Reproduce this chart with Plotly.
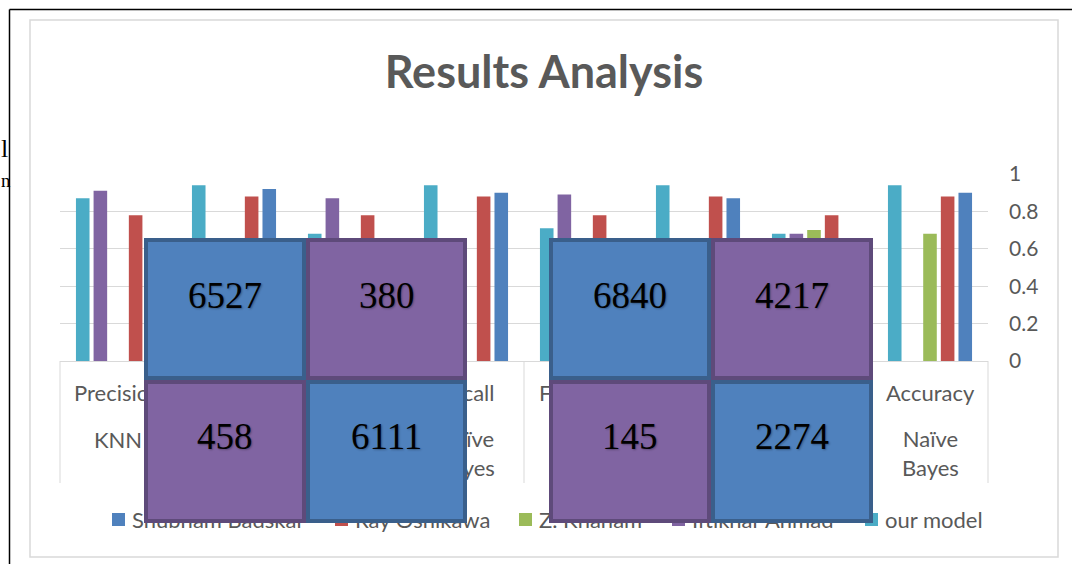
import plotly.graph_objects as go

# ---------------- data ----------------
metrics = ["Precision", "Precision", "Recall", "Recall",
           "F1-Score", "F1-Score", "Accuracy", "Accuracy"]
classifiers = ["KNN", "Naïve Bayes", "KNN", "Naïve Bayes",
               "KNN", "Naïve Bayes", "KNN", "Naïve Bayes"]
categories = [f"{m} {c}" for m, c in zip(metrics, classifiers)]
# categories whose axis labels are not entirely hidden by the overlaid boxes
visible_labels = [0, 3, 4, 7]

series_names = ["Shubham Badskar", "Ray Oshikawa", "Z. Khanam", "Iftikhar Ahmad", "our model"]
series_colors = ["#4F81BD", "#C0504D", "#9BBB59", "#8064A2", "#4BACC6"]

shubham = [None, 0.92, None, 0.90, None, 0.87, None, 0.90]
ray = [0.78, 0.88, 0.78, 0.88, 0.78, 0.88, 0.78, 0.88]
khanam = [None, None, None, None, None, None, 0.70, 0.68]
iftikhar = [0.91, None, 0.87, None, 0.89, None, 0.68, None]
our_model = [0.87, 0.94, 0.68, 0.94, 0.71, 0.94, 0.68, 0.94]
series_values = [shubham, ray, khanam, iftikhar, our_model]

cm_knn = [[6527, 380], [458, 6111]]
cm_nb = [[6840, 4217], [145, 2274]]

y_ticks = [0, 0.2, 0.4, 0.6, 0.8, 1]

# ---------------- geometry helpers ----------------
W, H = 1072, 564
PL, PR, PT, PB = 60, 988, 174, 361


def px(x):
    return (x - PL) / (PR - PL)


def py(y):
    return (PB - y) / (PB - PT)


GRAY_TXT = "#595959"
LINE = "#D9D9D9"
SANS = "Lato, Open Sans, sans-serif"

fig = go.Figure()

# bars (Excel draws the series in reverse order within a cluster)
for i in reversed(range(len(series_names))):
    fig.add_trace(go.Bar(
        x=categories, y=series_values[i], name=series_names[i],
        marker=dict(color=series_colors[i], line=dict(width=0)),
        showlegend=False, hoverinfo="skip",
    ))

shapes = []
annotations = []

# page border lines (document frame)
shapes.append(dict(type="line", xref="paper", yref="paper",
                   x0=px(9.5), x1=px(1072), y0=py(9.5), y1=py(9.5),
                   line=dict(color="#000000", width=1.5)))
shapes.append(dict(type="line", xref="paper", yref="paper",
                   x0=px(9.5), x1=px(9.5), y0=py(9.5), y1=py(564),
                   line=dict(color="#000000", width=1.5)))
# chart area border
shapes.append(dict(type="rect", xref="paper", yref="paper", layer="below",
                   x0=px(30), x1=px(1058), y0=py(20), y1=py(557),
                   line=dict(color=LINE, width=1.5), fillcolor="white"))

# category separators under the axis
n_cat = len(categories)
for b in range(n_cat + 1):
    long_sep = b in (0, n_cat // 2, n_cat)
    xb = b / n_cat
    shapes.append(dict(type="line", xref="paper", yref="paper",
                       x0=xb, x1=xb, y0=0, y1=py(483 if long_sep else 379),
                       line=dict(color=LINE, width=1)))

# category labels
for k in visible_labels:
    cat, m, c = categories[k], metrics[k], classifiers[k]
    annotations.append(dict(x=cat, xref="x", y=py(392), yref="paper",
                            text=m, showarrow=False, xanchor="center", yanchor="middle",
                            font=dict(family=SANS, size=22, color=GRAY_TXT)))
    ctext = c.replace(" ", "<br>")
    cy = 439 if "<br>" not in ctext else 453
    annotations.append(dict(x=cat, xref="x", y=py(cy), yref="paper",
                            text=ctext, showarrow=False, xanchor="center", yanchor="middle",
                            font=dict(family=SANS, size=22, color=GRAY_TXT)))

# legend (manual, so that the overlaid boxes cover it as in the original)
legend_x = [112, 335, 519, 672, 865]
for name, col, lx in zip(series_names, series_colors, legend_x):
    shapes.append(dict(type="rect", xref="paper", yref="paper",
                       x0=px(lx), x1=px(lx + 13), y0=py(513), y1=py(526),
                       line=dict(width=0), fillcolor=col))
    annotations.append(dict(x=px(lx + 18), xref="paper", y=py(519), yref="paper",
                            text=name, showarrow=False, xanchor="left", yanchor="middle",
                            font=dict(family=SANS, size=22, color=GRAY_TXT)))

# text fragments from the surrounding page
annotations.append(dict(x=px(0), xref="paper", y=py(149), yref="paper", text="l",
                        showarrow=False, xanchor="left", yanchor="middle", borderpad=0,
                        font=dict(family="Liberation Serif", size=26, color="#000")))
annotations.append(dict(x=px(0), xref="paper", y=py(180), yref="paper", text="n",
                        showarrow=False, xanchor="left", yanchor="middle", borderpad=0,
                        font=dict(family="Liberation Serif", size=19, color="#000")))

# confusion-matrix boxes overlaid on the chart
BLUE_F, BLUE_B = "#4F81BD", "#3A5F8B"
PURP_F, PURP_B = "#8064A2", "#5E4A7A"
BW = 4
col_edges = {"knn": [144, 306, 467], "nb": [549, 711, 873]}
row_edges = [238, 379.5, 522]
for key, cm in (("knn", cm_knn), ("nb", cm_nb)):
    xe = col_edges[key]
    for r in range(2):
        for c in range(2):
            x0, x1 = xe[c], xe[c + 1]
            y0, y1 = row_edges[r], row_edges[r + 1]
            diag = (r == c)
            annotations.append(dict(
                x=px(x0), xref="paper", y=py(y0), yref="paper",
                xanchor="left", yanchor="top", showarrow=False, text=" ",
                width=(x1 - x0) - 2 * BW, height=(y1 - y0) - 2 * BW,
                bgcolor=BLUE_F if diag else PURP_F,
                bordercolor=BLUE_B if diag else PURP_B,
                borderwidth=BW, borderpad=0,
            ))
            annotations.append(dict(
                x=px((x0 + x1) / 2), xref="paper", y=py(y0 + 57), yref="paper",
                xanchor="center", yanchor="middle", showarrow=False,
                text=str(cm[r][c]),
                font=dict(family="Liberation Serif, Times New Roman, serif", size=37,
                          color="#000000", shadow="1px 1px 2px rgba(0,0,0,0.3)"),
            ))

fig.update_layout(
    width=W, height=H,
    margin=dict(l=PL, r=W - PR, t=PT, b=H - PB, pad=0),
    paper_bgcolor="white", plot_bgcolor="rgba(0,0,0,0)",
    title=dict(text="<b>Results Analysis</b>", x=544 / W, xref="container",
               y=1 - 72 / H, yref="container", xanchor="center", yanchor="middle",
               font=dict(family=SANS, size=45, color=GRAY_TXT)),
    barmode="group", bargap=0.24, bargroupgap=0.23,
    showlegend=False,
    xaxis=dict(type="category", showticklabels=False, showgrid=False,
               showline=True, linecolor=LINE, linewidth=1, zeroline=False,
               ticks="", range=[-0.5, n_cat - 0.5]),
    yaxis=dict(side="right", range=[0, 1], tickvals=y_ticks, showgrid=True,
               gridcolor=LINE, gridwidth=1, zeroline=False, showline=False,
               ticks="", ticklabelstandoff=20,
               tickfont=dict(family=SANS, size=21, color=GRAY_TXT)),
    shapes=shapes,
    annotations=annotations,
)

fig.write_html("out.html", config={"displayModeBar": False},
               post_script="document.body.style.margin='0';document.body.style.overflow='hidden';")
